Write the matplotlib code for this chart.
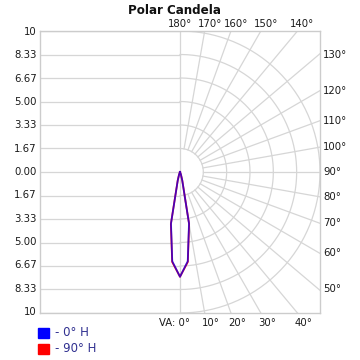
import numpy as np
import matplotlib
matplotlib.use("Agg")
import matplotlib.pyplot as plt

# ---- data ----
title = "Polar Candela"
scale_labels = ["10", "8.33", "6.67", "5.00", "3.33", "1.67", "0.00",
                "1.67", "3.33", "5.00", "6.67", "8.33", "10"]
scale_values = [10, 8.33, 6.67, 5.00, 3.33, 1.67, 0.0,
                -1.67, -3.33, -5.00, -6.67, -8.33, -10]
vert_angles = [0, 5, 10, 15, 20, 25, 30, 35, 40, 45, 50, 60, 70, 80, 90,
               100, 110, 120, 130, 140, 150, 160, 170, 180]
cd_0H = [7.43, 6.35, 3.70, 0.62, 0.20, 0.05, 0.0, 0.0, 0.0, 0.0, 0.0, 0.0,
         0.0, 0.0, 0.0, 0.0, 0.0, 0.0, 0.0, 0.0, 0.0, 0.0, 0.0, 0.0]
cd_90H = [7.43, 6.40, 3.75, 0.64, 0.20, 0.05, 0.0, 0.0, 0.0, 0.0, 0.0, 0.0,
          0.0, 0.0, 0.0, 0.0, 0.0, 0.0, 0.0, 0.0, 0.0, 0.0, 0.0, 0.0]
series_names = ["- 0° H", "- 90° H"]
series_colors = ["#0000ff", "#ff0000"]
right_angle_labels = [130, 120, 110, 100, 90, 80, 70, 60, 50]
top_angle_labels = [180, 170, 160, 150, 140]
bottom_angle_labels = [0, 10, 20, 30, 40]

RMAX = 10.0
grid_c = "#d6d6d6"
text_c = "#1a1a1a"

fig = plt.figure(figsize=(3.6, 3.6), dpi=100)
W = H = 360.0
L, R, T, B = 40, 320, 31, 313
ax = fig.add_axes([L / W, 1 - B / H, (R - L) / W, (B - T) / H])
ax.set_xlim(-RMAX, RMAX)
ax.set_ylim(-RMAX, RMAX)
ax.set_xticks([])
ax.set_yticks([])
for s in ax.spines.values():
    s.set_color("#cccccc")
    s.set_linewidth(1.0)

# left half: horizontal grid lines
for v in scale_values:
    ax.plot([-RMAX, 0], [v, v], color=grid_c, lw=0.9, zorder=1)
# center vertical line
ax.plot([0, 0], [-RMAX, RMAX], color=grid_c, lw=0.9, zorder=1)
# right half: semicircles
rings = [RMAX * k / 6 for k in range(1, 7)]
t = np.linspace(-np.pi / 2, np.pi / 2, 200)
for r in rings:
    ax.plot(r * np.cos(t), r * np.sin(t), color=grid_c, lw=0.9, zorder=1)
# radial lines every 10 degrees, from first ring outward
for a in range(10, 180, 10):
    th = np.deg2rad(a)
    dx, dy = np.sin(th), -np.cos(th)
    ax.plot([rings[0] * dx, 30 * dx], [rings[0] * dy, 30 * dy],
            color=grid_c, lw=0.9, zorder=1)

# curves (mirrored on both sides)
def curve(vals):
    th = np.deg2rad(np.array(vert_angles, dtype=float))
    r = np.array(vals, dtype=float)
    xr, yr = r * np.sin(th), -r * np.cos(th)
    x = np.concatenate([-xr[::-1], xr])
    y = np.concatenate([yr[::-1], yr])
    return x, y

x2, y2 = curve(cd_90H)
ax.plot(x2, y2, color=series_colors[1], lw=1.3, zorder=3)
x1, y1 = curve(cd_0H)
ax.plot(x1, y1, color=series_colors[0], lw=1.3, alpha=0.7, zorder=4)

def px_to_fig(x, y):
    return x / W, 1 - y / H

cx, cy = 180, 172
fs = 7.3
for lab, v in zip(scale_labels, scale_values):
    yy = cy - v * 14.0
    fx, fy = px_to_fig(37, yy)
    fig.text(fx, fy, lab, ha="right", va="center", fontsize=fs, color=text_c)

# right angle labels
for a in right_angle_labels:
    th = np.deg2rad(a)
    yy = cy + 140 * np.cos(th) / np.sin(th)
    fx, fy = px_to_fig(323, yy)
    fig.text(fx, fy, f"{a}°", ha="left", va="center", fontsize=fs, color=text_c)

# top labels
for a in top_angle_labels:
    th = np.deg2rad(180 - a)
    xx = cx + 140 * np.tan(th)
    off = 0 if a == 180 else 5
    fx, fy = px_to_fig(xx + off, 24)
    fig.text(fx, fy, f"{a}°", ha="center", va="center", fontsize=fs, color=text_c)

# bottom labels
for a in bottom_angle_labels:
    th = np.deg2rad(a)
    xx = cx + 140 * np.tan(th)
    if a == 0:
        fx, fy = px_to_fig(190, 323)
        fig.text(fx, fy, "VA: 0°", ha="right", va="center", fontsize=fs, color=text_c)
    else:
        fx, fy = px_to_fig(xx + 6, 323)
        fig.text(fx, fy, f"{a}°", ha="center", va="center", fontsize=fs, color=text_c)

# title
fx, fy = px_to_fig(174, 10)
fig.text(fx, fy, title, ha="center", va="center", fontsize=8.6, fontweight="bold", color="#111111")

# legend
leg_y = [333, 349]
for name, col, yy in zip(series_names, series_colors, leg_y):
    fig.patches.append(plt.Rectangle((38 / W, 1 - (yy + 5) / H), 11 / W, 10 / H,
                                     transform=fig.transFigure, color=col, figure=fig))
    fx, fy = px_to_fig(55, yy)
    fig.text(fx, fy, name, ha="left", va="center", fontsize=8.5, color="#303090")

fig.savefig("out.png", dpi=100)
